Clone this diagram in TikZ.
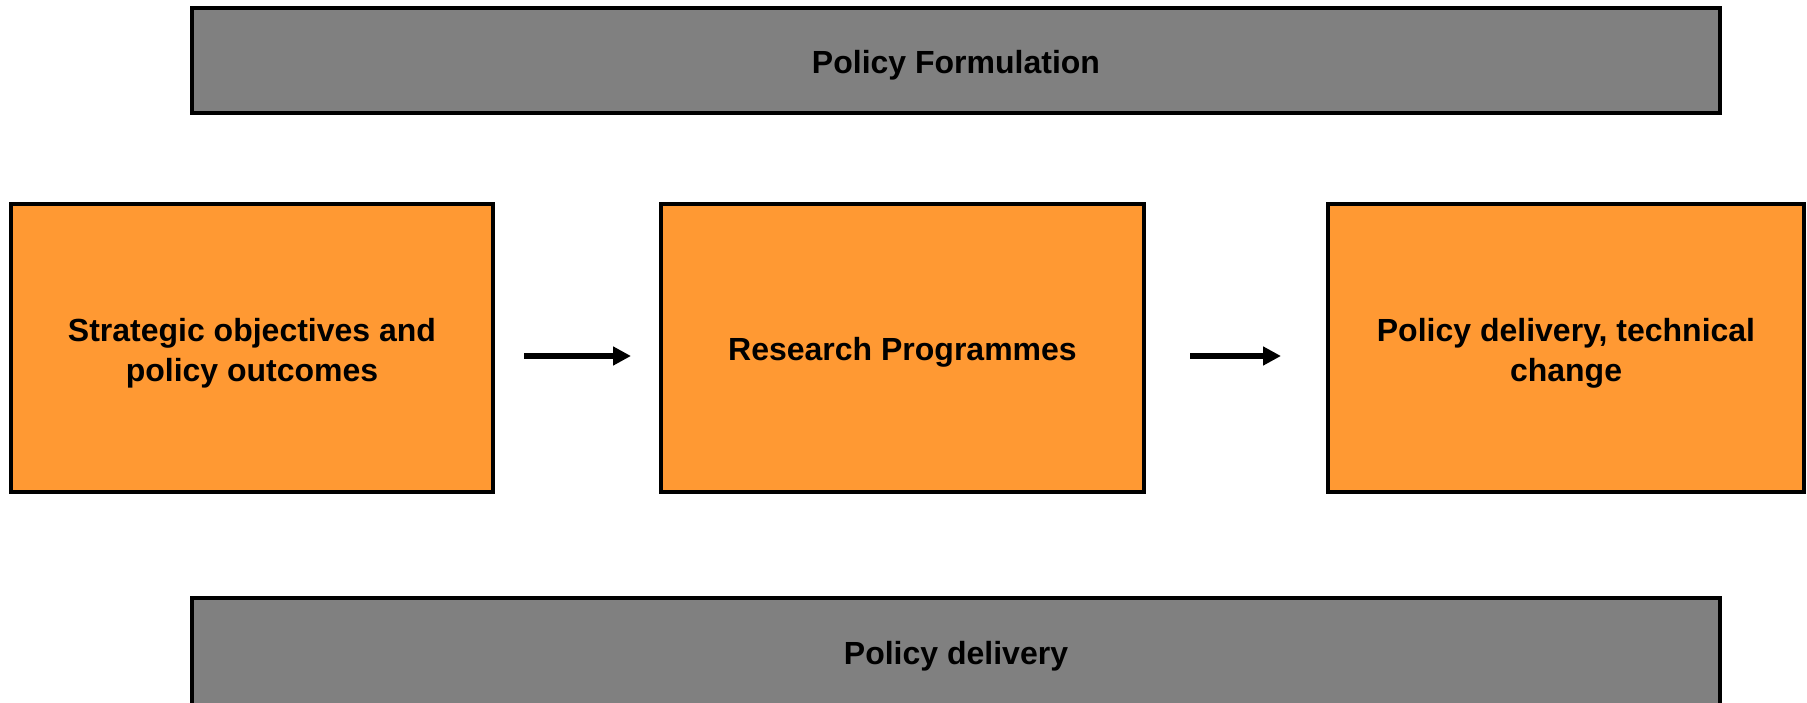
\documentclass[tikz,border=0pt]{standalone}
\usepackage{fontspec}
\setmainfont{Liberation Sans}
\usetikzlibrary{arrows.meta}
\definecolor{boxorange}{HTML}{FF9933}
\definecolor{bargray}{HTML}{808080}

\begin{document}
\begin{tikzpicture}[x=50pt,y=50pt,
  bar/.style={draw=black, line width=2pt, fill=bargray, inner sep=0pt, outer sep=0pt,
    minimum width=764pt, minimum height=52.5pt, text height=12.7pt, text depth=0pt,
    font=\bfseries\fontsize{16}{18.5}\selectfont},
  stage/.style={draw=black, line width=2pt, fill=boxorange, inner sep=0pt, outer sep=0pt,
    minimum height=144pt, align=center, font=\bfseries\fontsize{16}{20}\selectfont},
  flow/.style={line width=3pt, -{Triangle[length=9pt,width=9pt]}}]
\useasboundingbox (0,0) rectangle (18.07,7.02);

% policy bars
\node[bar] (form) at (9.56,6.415) {Policy Formulation};
\node[bar, minimum height=53.5pt] (deliv) at (9.56,0.505) {Policy delivery};

% stages
\node[stage, minimum width=241pt] (strat) at (2.52,3.54) {\rule{0pt}{16.7pt}Strategic objectives and\\policy outcomes};
\node[stage, minimum width=241.5pt, text height=12.7pt, text depth=0pt] (prog) at (9.025,3.54) {Research Programmes};
\node[stage, minimum width=238pt] (tech) at (15.66,3.54) {\rule{0pt}{16.7pt}Policy delivery, technical\\change};

% arrows
\draw[flow, shorten <=15.5pt, shorten >=15pt] ([yshift=-4pt]strat.east) -- ([yshift=-4pt]prog.west);
\draw[flow, shorten <=23pt, shorten >=23.5pt] ([yshift=-4pt]prog.east) -- ([yshift=-4pt]tech.west);
\end{tikzpicture}
\end{document}
